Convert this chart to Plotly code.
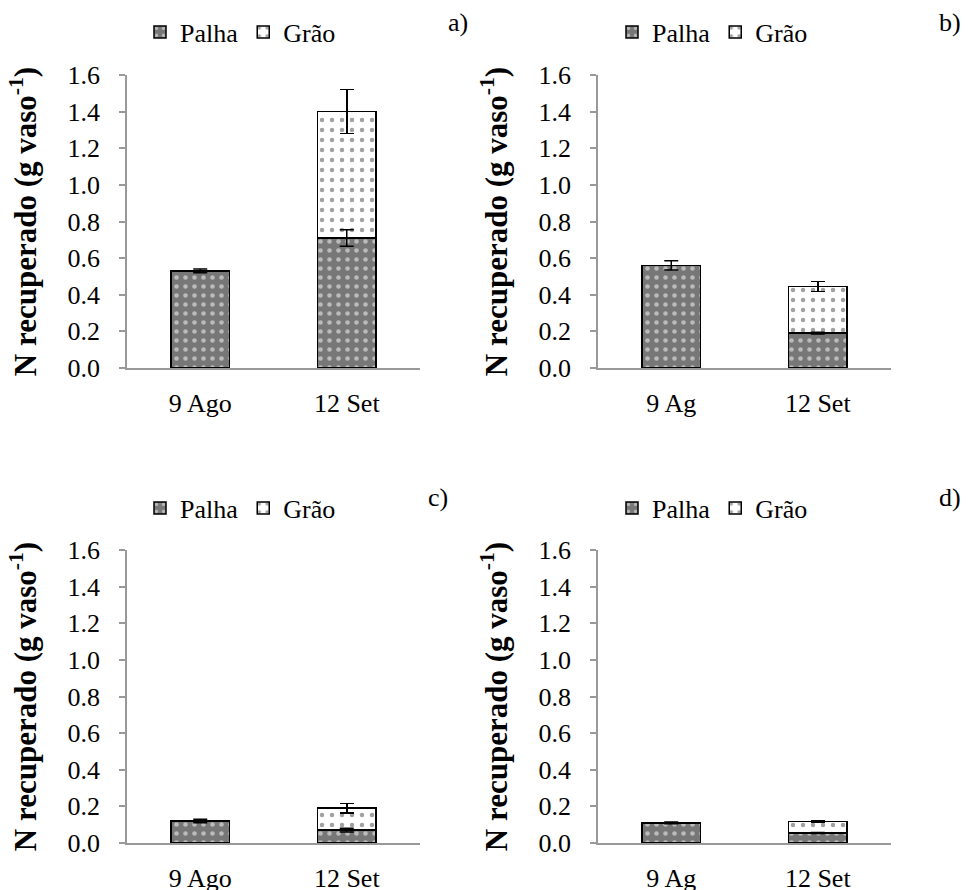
import plotly.graph_objects as go
from plotly.subplots import make_subplots

categories_ac = ["9 Ago", "12 Set"]
categories_bd = ["9 Ag", "12 Set"]

palha_a = [0.53, 0.71]
palha_a_err = [0.01, 0.045]
grao_a = [0.0, 0.69]
grao_a_err = [0.0, 0.12]

palha_b = [0.56, 0.19]
palha_b_err = [0.025, 0.005]
grao_b = [0.0, 0.255]
grao_b_err = [0.0, 0.027]

palha_c = [0.12, 0.07]
palha_c_err = [0.01, 0.01]
grao_c = [0.0, 0.12]
grao_c_err = [0.0, 0.027]

palha_d = [0.11, 0.055]
palha_d_err = [0.005, 0.003]
grao_d = [0.0, 0.063]
grao_d_err = [0.0, 0.005]

panel_labels = ["a)", "b)", "c)", "d)"]
yticks = [0.0, 0.2, 0.4, 0.6, 0.8, 1.0, 1.2, 1.4, 1.6]

FONT = "Liberation Serif"

fig = make_subplots(rows=2, cols=2)

panels = [
    (1, 1, categories_ac, palha_a, palha_a_err, grao_a, grao_a_err, "legend"),
    (1, 2, categories_bd, palha_b, palha_b_err, grao_b, grao_b_err, "legend2"),
    (2, 1, categories_ac, palha_c, palha_c_err, grao_c, grao_c_err, "legend3"),
    (2, 2, categories_bd, palha_d, palha_d_err, grao_d, grao_d_err, "legend4"),
]

for (r, c, cats, pv, pe, gv, ge, lg) in panels:
    fig.add_trace(go.Bar(
        x=cats, y=pv, name="Palha", width=0.4,
        marker=dict(color="#777777", line=dict(color="black", width=1.5),
                    pattern=dict(shape=".", fgcolor="white", bgcolor="#777777",
                                 size=9, solidity=0.2)),
        legend=lg, showlegend=True,
    ), row=r, col=c)
    grao_show = [v if v > 0 else None for v in gv]
    fig.add_trace(go.Bar(
        x=cats, y=grao_show, name="Grão", width=0.4,
        marker=dict(color="white", line=dict(color="black", width=1.5),
                    pattern=dict(shape=".", fgcolor="#444444", bgcolor="white",
                                 size=10, solidity=0.16)),
        error_y=dict(type="data", array=ge, color="black", thickness=1.5, width=7),
        legend=lg, showlegend=True,
    ), row=r, col=c)
    fig.add_trace(go.Scatter(
        x=cats, y=pv, mode="markers", marker=dict(opacity=0, size=1),
        error_y=dict(type="data", array=pe, color="black", thickness=1.5, width=7),
        showlegend=False, hoverinfo="skip",
    ), row=r, col=c)

fig.update_layout(
    barmode="stack",
    width=973, height=890,
    margin=dict(l=0, r=0, t=0, b=0, autoexpand=False),
    paper_bgcolor="white", plot_bgcolor="white",
    font=dict(family=FONT, size=26, color="black"),
)

xdoms = [[127/973, 420/973], [598/973, 891/973]]
ydoms = [[(890-368)/890, (890-75)/890], [(890-843)/890, (890-550)/890]]
axis_names = [("xaxis", "yaxis", 0, 0), ("xaxis2", "yaxis2", 0, 1),
              ("xaxis3", "yaxis3", 1, 0), ("xaxis4", "yaxis4", 1, 1)]
for xa, ya, r, c in axis_names:
    fig.layout[xa].update(domain=xdoms[c], showline=True, linecolor="#999999", linewidth=1.5,
                          ticks="", showgrid=False, tickfont=dict(size=26, family=FONT),
                          ticklabelstandoff=11, automargin=False, fixedrange=True)
    fig.layout[ya].update(domain=ydoms[r], range=[0, 1.6], tickvals=yticks, tickformat=".1f",
                          showline=True, linecolor="#999999", linewidth=1.5,
                          ticks="outside", tickcolor="#999999", ticklen=6, tickwidth=1.5,
                          showgrid=False, zeroline=False, tickfont=dict(size=26, family=FONT),
                          ticklabelstandoff=14, automargin=False,
                          title=dict(text="<b>N recuperado (g vaso<sup>-1</sup>)</b>",
                                     font=dict(size=31, family=FONT), standoff=22))

legend_pos = {"legend": (140/973, (890-32)/890), "legend2": (612/973, (890-32)/890),
              "legend3": (140/973, (890-508)/890), "legend4": (612/973, (890-508)/890)}
for lg, (lx, ly) in legend_pos.items():
    fig.layout[lg] = dict(x=lx, y=ly, xanchor="left", yanchor="middle", orientation="h",
                          font=dict(size=26, family=FONT), bgcolor="rgba(0,0,0,0)",
                          itemwidth=30, traceorder="normal")

label_pos = [(458, 22), (950, 22), (438, 497), (950, 497)]
for lab, (px, py) in zip(panel_labels, label_pos):
    fig.add_annotation(text=lab, x=px/973, y=(890-py)/890, xref="paper", yref="paper",
                       showarrow=False, font=dict(size=26, family=FONT),
                       xanchor="center", yanchor="middle")

fig.write_html("out.html")
